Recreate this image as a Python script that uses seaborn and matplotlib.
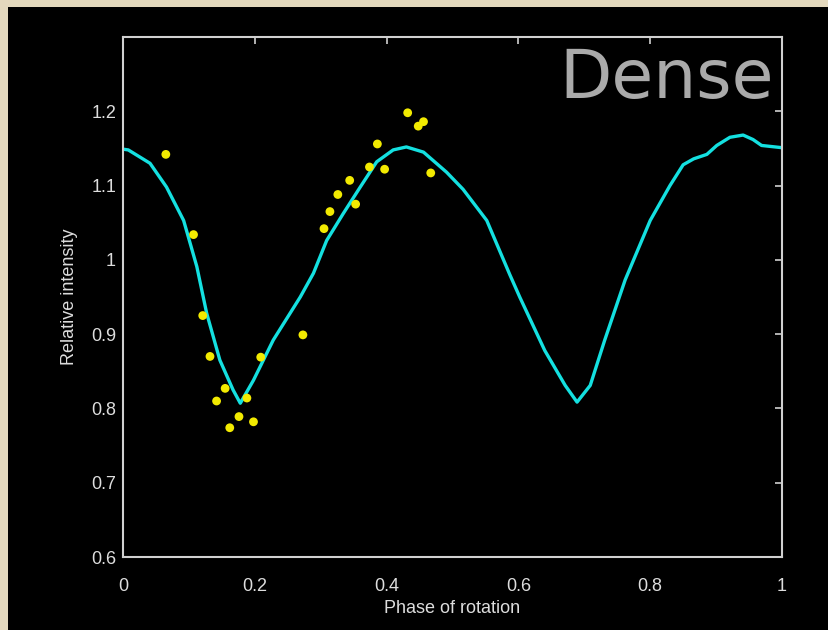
import matplotlib
matplotlib.use("Agg")
import matplotlib.pyplot as plt
import matplotlib.transforms as mtransforms
import seaborn as sns
import pandas as pd
from matplotlib.patches import Rectangle

# Model curve (phase, relative intensity)
curve_phase = [0, 0.008, 0.041, 0.066, 0.092, 0.112, 0.127, 0.147, 0.167, 0.178,
               0.198, 0.228, 0.269, 0.289, 0.309, 0.334, 0.360, 0.385, 0.410, 0.430,
               0.456, 0.491, 0.516, 0.552, 0.587, 0.602, 0.640, 0.671, 0.689, 0.709,
               0.731, 0.762, 0.800, 0.830, 0.850, 0.866, 0.886, 0.901, 0.921, 0.941,
               0.956, 0.969, 1.0]
curve_intensity = [1.149, 1.148, 1.130, 1.098, 1.053, 0.991, 0.928, 0.865, 0.825, 0.807,
                   0.838, 0.892, 0.950, 0.982, 1.026, 1.062, 1.098, 1.132, 1.148, 1.152,
                   1.145, 1.118, 1.095, 1.053, 0.980, 0.950, 0.878, 0.831, 0.8085, 0.831,
                   0.892, 0.973, 1.053, 1.100, 1.128, 1.136, 1.142, 1.154, 1.165, 1.168,
                   1.162, 1.154, 1.151]

# Observed points
obs_phase = [0.065, 0.107, 0.121, 0.132, 0.155, 0.142, 0.188, 0.176, 0.162, 0.198,
             0.209, 0.273, 0.305, 0.314, 0.326, 0.344, 0.353, 0.374, 0.386, 0.397,
             0.432, 0.448, 0.456, 0.467]
obs_intensity = [1.142, 1.034, 0.925, 0.870, 0.827, 0.810, 0.814, 0.789, 0.774, 0.782,
                 0.869, 0.899, 1.042, 1.065, 1.088, 1.107, 1.075, 1.125, 1.156, 1.122,
                 1.198, 1.180, 1.186, 1.117]

x_ticks = [0, 0.2, 0.4, 0.6, 0.8, 1]
x_ticklabels = ["0", "0.2", "0.4", "0.6", "0.8", "1"]
y_ticks = [0.6, 0.7, 0.8, 0.9, 1.0, 1.1, 1.2]
y_ticklabels = ["0.6", "0.7", "0.8", "0.9", "1", "1.1", "1.2"]

sns.set_style("white")
plt.rcParams['font.family'] = ['Liberation Sans', 'DejaVu Sans']

fig = plt.figure(figsize=(8.29, 6.30), dpi=100)
fig.patch.set_facecolor("#e3d8bd")
bg = Rectangle((8 / 829, 0), 1, (630 - 7) / 630, transform=fig.transFigure,
               facecolor="black", edgecolor="none")
bg.set_zorder(-10)
fig.patches.append(bg)

ax = fig.add_axes([123 / 829, 73 / 630, (782 - 123) / 829, (557 - 37) / 630])
ax.set_zorder(5)
ax.set_facecolor("black")

curve_df = pd.DataFrame({"phase": curve_phase, "intensity": curve_intensity})
obs_df = pd.DataFrame({"phase": obs_phase, "intensity": obs_intensity})

sns.lineplot(data=curve_df, x="phase", y="intensity", ax=ax, color="#14e0e0",
             linewidth=2.4, sort=False, zorder=2)
sns.scatterplot(data=obs_df, x="phase", y="intensity", ax=ax, color="#f2ea00",
                s=40, edgecolor="none", zorder=3)

ax.set_xlim(0, 1)
ax.set_ylim(0.6, 1.3)
ax.set_xticks(x_ticks)
ax.set_xticklabels(x_ticklabels)
ax.set_yticks(y_ticks)
ax.set_yticklabels(y_ticklabels)

for s in ax.spines.values():
    s.set_color("#d0d0d0")
    s.set_linewidth(1.5)
    s.set_visible(True)

ax.tick_params(axis="both", direction="in", length=5, width=1.2, color="#d0d0d0",
               labelcolor="#dddddd", labelsize=13, top=True, right=True)
ax.tick_params(axis="x", pad=15)
ax.tick_params(axis="y", pad=5)

ax.set_xlabel("Phase of rotation", color="#dddddd", fontsize=13, labelpad=4)
ax.set_ylabel("Relative intensity", color="#dddddd", fontsize=13, labelpad=9)

trans = mtransforms.blended_transform_factory(ax.transAxes, ax.transData)
ax.text(0.987, 1.2175, "Dense", transform=trans, ha="right", va="baseline",
        fontsize=49, color="#aaaaaa", family=["DejaVu Sans"])

fig.savefig("out.png", dpi=100, facecolor=fig.get_facecolor())
